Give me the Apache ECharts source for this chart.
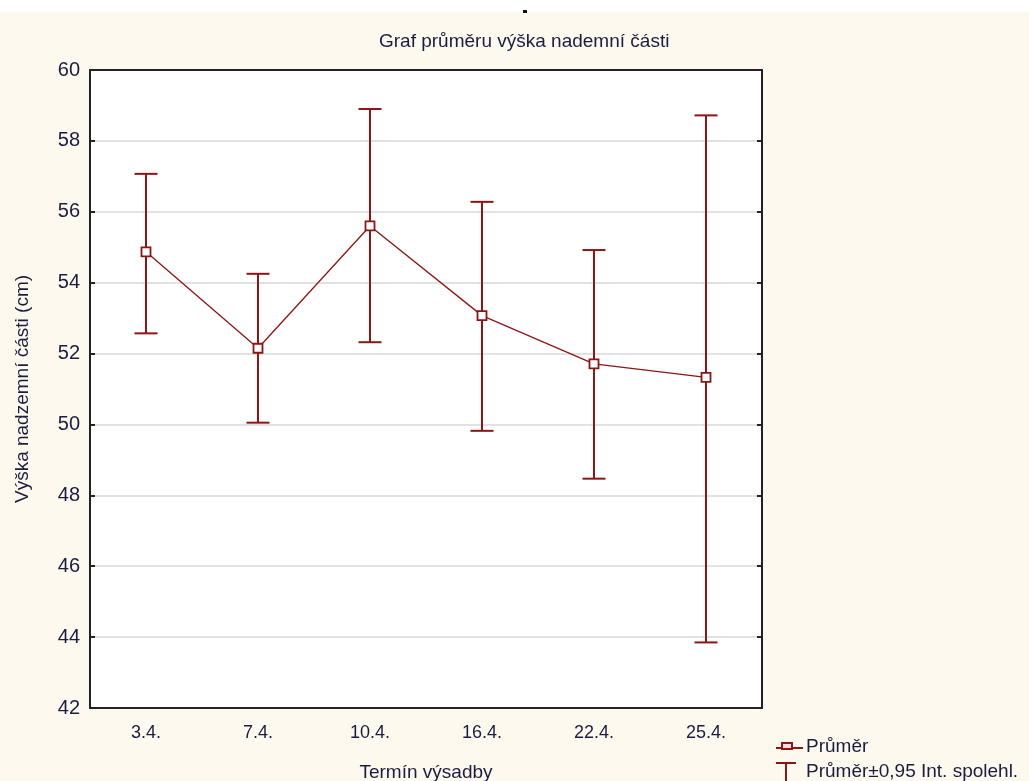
<!DOCTYPE html>
<html>
<head>
<meta charset="utf-8">
<script src="https://cdn.jsdelivr.net/npm/echarts@6/dist/echarts.min.js"></script>
<style>
html,body{margin:0;padding:0;background:#fdf9ef;}
#chart{width:1029px;height:781px;}
</style>
</head>
<body>
<div id="chart"></div>
<script>
const categories = ['3.4.', '7.4.', '10.4.', '16.4.', '22.4.', '25.4.'];
const means = [54.87, 52.15, 55.6, 53.07, 51.71, 51.33];
const upper = [57.07, 54.25, 58.9, 56.28, 54.92, 58.72];
const lower = [52.57, 50.05, 52.32, 49.82, 48.47, 43.85];
const yTicks = [42, 44, 46, 48, 50, 52, 54, 56, 58, 60];

const red = '#8c1515';
const textColor = '#1c1c40';
const font = 'Liberation Sans, Arial, sans-serif';

const errData = categories.map((c, i) => [i, lower[i], upper[i]]);

const chart = echarts.init(document.getElementById('chart'), null, {renderer: 'canvas'});
chart.setOption({
  backgroundColor: '#fdf9ef',
  animation: false,
  title: {
    text: 'Graf průměru výška nademní části',
    left: 374, top: 27,
    textStyle: {fontFamily: font, fontSize: 19, fontWeight: 'normal', color: textColor}
  },
  grid: {left: 90, right: 267, top: 70, bottom: 73, containLabel: false, outerBoundsMode: 'none',
    show: true, backgroundColor: '#ffffff', borderWidth: 0},
  xAxis: [{
    type: 'category', data: categories, boundaryGap: true,
    name: 'Termín výsadby', nameLocation: 'middle', nameGap: 55,
    nameTextStyle: {fontFamily: font, fontSize: 19, color: textColor},
    axisLine: {lineStyle: {color: '#222', width: 2}},
    axisTick: {inside: true, alignWithLabel: true, length: 5, lineStyle: {color: '#222', width: 2}},
    axisLabel: {fontFamily: font, fontSize: 18, color: textColor, margin: 16},
    splitLine: {show: false}
  }, {
    type: 'category', data: categories, position: 'top',
    axisLine: {lineStyle: {color: '#222', width: 2}},
    axisTick: {show: false}, axisLabel: {show: false}
  }],
  yAxis: [{
    type: 'value', min: 42, max: 60, interval: 2,
    name: 'Výška nadzemní části (cm)', nameLocation: 'middle', nameGap: 58,
    nameTextStyle: {fontFamily: font, fontSize: 19, color: textColor},
    axisLine: {show: true, lineStyle: {color: '#222', width: 2}},
    axisTick: {show: true, inside: true, length: 5, lineStyle: {color: '#222', width: 2}},
    axisLabel: {fontFamily: font, fontSize: 20, color: textColor, margin: 10,
      formatter: v => yTicks.includes(v) ? String(v) : ''},
    splitLine: {show: true, lineStyle: {color: '#d9d9d9', width: 1.5}}
  }, {
    type: 'value', min: 42, max: 60, interval: 2, position: 'right',
    axisLine: {show: true, lineStyle: {color: '#222', width: 2}},
    axisTick: {show: true, inside: true, length: 5, lineStyle: {color: '#222', width: 2}},
    axisLabel: {show: false}, splitLine: {show: false}
  }],
  series: [{
    type: 'custom',
    name: 'Průměr±0,95 Int. spolehl.',
    data: errData,
    z: 2,
    renderItem: function (params, api) {
      const x = api.value(0);
      const lo = api.coord([x, api.value(1)]);
      const hi = api.coord([x, api.value(2)]);
      const w = 11.5;
      const st = {stroke: red, lineWidth: 2};
      return {
        type: 'group',
        children: [
          {type: 'line', shape: {x1: hi[0], y1: hi[1], x2: lo[0], y2: lo[1]}, style: st},
          {type: 'line', shape: {x1: hi[0] - w, y1: hi[1], x2: hi[0] + w, y2: hi[1]}, style: st},
          {type: 'line', shape: {x1: lo[0] - w, y1: lo[1], x2: lo[0] + w, y2: lo[1]}, style: st}
        ]
      };
    }
  }, {
    type: 'line',
    name: 'Průměr',
    data: means,
    z: 3,
    symbol: 'rect', symbolSize: 9,
    lineStyle: {color: red, width: 1.3},
    itemStyle: {color: '#ffffff', borderColor: red, borderWidth: 1.8}
  }],
  graphic: [
    {type: 'rect', shape: {x: 0, y: 0, width: 1029, height: 12}, style: {fill: '#ffffff'}},
    {type: 'rect', shape: {x: 523, y: 10, width: 4, height: 3}, style: {fill: '#111'}},
    {type: 'line', shape: {x1: 776, y1: 748, x2: 803, y2: 748}, style: {stroke: red, lineWidth: 2}},
    {type: 'rect', shape: {x: 782, y: 743, width: 10, height: 6}, style: {fill: '#f4dede', stroke: red, lineWidth: 2}},
    {type: 'text', style: {text: 'Průměr', x: 806, y: 747, fontFamily: font, fontSize: 19, fill: textColor, verticalAlign: 'middle'}},
    {type: 'line', shape: {x1: 776, y1: 763, x2: 796, y2: 763}, style: {stroke: red, lineWidth: 2}},
    {type: 'line', shape: {x1: 786, y1: 763, x2: 786, y2: 781}, style: {stroke: red, lineWidth: 2}},
    {type: 'text', style: {text: 'Průměr±0,95 Int. spolehl.', x: 806, y: 772, fontFamily: font, fontSize: 19, fill: textColor, verticalAlign: 'middle'}}
  ]
});
</script>
</body>
</html>
